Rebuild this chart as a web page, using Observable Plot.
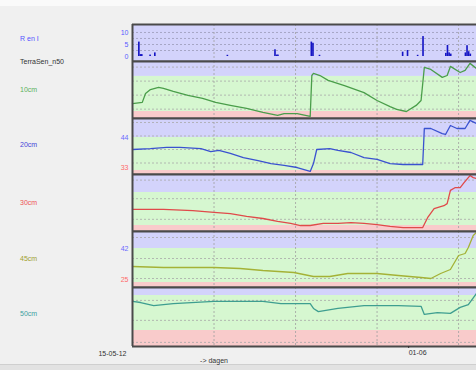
<!DOCTYPE html>
<html><head><meta charset="utf-8">
<script src="https://cdn.jsdelivr.net/npm/d3@7"></script>
<script src="https://cdn.jsdelivr.net/npm/@observablehq/plot@0.6"></script>
<style>
html,body{margin:0;padding:0;}
body{width:476px;height:370px;overflow:hidden;background:#f0f0f0;font-family:"Liberation Sans",Arial,sans-serif;position:relative;}
#topstrip{position:absolute;left:0;top:0;width:476px;height:6px;background:#fafafa;}
#foot{position:absolute;left:0;top:364px;width:476px;height:6px;background:#e2e2e2;border-top:1px solid #cfcfcf;}
.lab{position:absolute;left:20px;font-size:7px;transform:translateY(-50%);white-space:nowrap;}
.pl{position:absolute;left:0;}
</style></head><body>
<div id="topstrip"></div>
<div id="foot"></div>
<script>
// ---------- data ----------
const startLabel = "15-05-12";
const tickLabel = "01-06";
const axisTitle = "-> dagen";
const sensorLabels = ["R en I", "TerraSen_n50", "10cm", "20cm", "30cm", "45cm", "50cm"];
const sensorColors = ["#5555ff", "#333333", "#5cb05c", "#4646d8", "#ee5555", "#a0a030", "#40a0a0"];

// rain (day offset from 15-05-2012, mm)
const rainDay = [0.37,0.47,0.55,1.06,1.35,5.80,8.72,8.82,8.90,10.95,11.05,11.45,16.55,16.85,17.47,17.80,19.20,19.30,19.40,19.50,20.40,20.50,20.60,20.70];
const rainMm  = [6.0,0.8,0.8,0.6,1.5,0.5,2.8,0.6,0.6,6.0,5.5,0.5,1.8,2.5,0.5,8.3,1.3,4.6,1.5,1.0,1.5,4.5,2.0,1.0];
const rainTicks = [0, 5, 10];

const t10 = [0,0.6,0.8,1.1,1.6,1.9,2.5,3.4,4.3,5.1,6.0,7.0,8.0,8.9,9.3,10.1,10.9,11.0,11.1,11.5,12.0,13.0,14.2,15.0,15.8,16.2,16.8,17.4,17.7,17.9,18.3,19.0,19.3,19.5,20.1,20.4,20.7,21.1];
const v10 = [28.4,28.9,32.7,34.4,35.3,34.9,33.6,31.9,30.6,28.9,27.6,26.3,24.6,23.3,24.1,24.1,22.9,40.4,41.3,40.4,38.3,36.1,33.1,29.7,27.1,25.9,25.0,27.6,29.7,43.9,43.0,39.6,40.4,44.3,41.7,42.6,45.6,43.4];

const t20 = [0,1.1,2.1,2.9,4.2,4.8,5.3,6.0,6.8,7.7,8.5,9.3,10.1,10.9,11.1,11.3,12.1,12.6,13.4,14.2,15.0,15.8,16.6,17.8,17.9,18.3,19.0,19.2,19.5,19.9,20.4,20.7,21.1];
const v20 = [40.0,40.3,40.7,40.7,40.3,39.3,39.7,38.7,37.3,36.3,35.3,34.7,34.0,32.7,35.3,40.0,40.3,39.7,39.0,37.3,36.7,35.3,35.0,35.0,47.0,47.0,45.3,45.0,48.0,47.0,47.0,49.7,48.7];

const t30 = [0,1.9,3.7,5.0,6.0,7.0,8.0,8.9,9.7,10.3,10.9,11.7,12.6,13.4,14.2,15.0,15.8,16.6,17.8,18.1,18.5,19.1,19.3,19.5,19.8,20.1,20.3,20.7,20.9,21.1];
const v30 = [33.9,33.9,33.6,33.2,32.9,32.2,31.7,31.0,30.5,30.0,30.0,30.5,30.5,30.7,30.5,30.2,29.8,29.5,29.5,31.9,34.1,34.8,35.3,38.5,39.2,39.2,40.2,42.1,41.6,41.4];

const t45 = [0,1.9,5.0,6.6,8.0,9.9,10.5,11.1,12.1,13.2,15.0,16.3,17.7,18.3,18.9,19.5,20.0,20.4,20.6,20.9,21.1];
const v45 = [33.0,32.5,32.5,32.0,31.0,30.0,29.0,28.0,28.0,29.5,29.5,28.5,27.5,27.0,29.5,31.5,38.5,39.5,42.5,48.5,50.0];

const t50 = [0,0.5,1.3,2.5,5.0,8.0,9.1,10.9,11.1,11.4,12.6,14.2,16.3,17.7,17.9,18.7,19.5,20.1,20.6,21.1];
const v50 = [43.3,43.0,42.1,42.7,43.3,43.3,42.7,42.7,41.3,40.4,41.3,42.1,42.1,41.9,39.6,40.1,39.9,41.6,42.4,45.6];

// thresholds (upper / lower) per depth, with shown tick labels
const upper = [40, 44, 38, 42, 45];
const lower = [25, 33, 30, 25, 35];
const showTicks = [false, true, false, true, false];
const gridDays = [5, 10, 15, 20];
const tickDay = 17;
const endDay = 21.1;

// ---------- layout (styles/positions) ----------
const DAY = 86400000;
const start = Date.UTC(2012, 4, 15);
const toDate = d => new Date(start + d * DAY);
const xDom = [toDate(0), toDate(endDay)];
const gridDates = gridDays.map(toDate);

const labelY = [38, 61, 89, 144, 202, 258, 313];
sensorLabels.forEach((s, i) => {
  const el = document.createElement("div");
  el.className = "lab";
  el.textContent = s;
  el.style.top = labelY[i] + "px";
  el.style.color = sensorColors[i];
  document.body.appendChild(el);
});

const lineColors = ["#4a9e4a", "#3a52d0", "#e04a4a", "#a4b236", "#3e9e90"];
const panelEdges = [[61,118],[118,174],[174,231],[231,287],[287,346]];
const panelDomains = [[22.0,46.4],[31.67,50.33],[28.55,42.36],[22.5,50.5],[30.43,47.29]];
const panelGrid = [[26,32,38,44],[35.5,40,44.5,49],[31.5,36.5,41],[27,37,47.5],[31.6,37.9,43.6]];
const series = [[t10,v10],[t20,v20],[t30,v30],[t45,v45],[t50,v50]];

const BLUE = "#d3d3fb", GREEN = "#d6f7d0", PINK = "#f9cbcb", BORDER = "#4a4a4a";
const xa = () => xDom[0], xb = () => xDom[1];

function mount(svg, top) {
  svg.classList.add("pl");
  svg.style.top = top + "px";
  document.body.appendChild(svg);
}

const baseStyle = {background: "transparent", overflow: "visible", fontFamily: "Liberation Sans, Arial, sans-serif", fontSize: "7px", color: "#333"};

// rain panel
{
  const top = 24, bottom = 61, dom = [-2.08, 13.33];
  const rain = rainDay.map((d, i) => ({t1: toDate(d), t2: toDate(d + 0.1), v: rainMm[i]}));
  const svg = Plot.plot({
    width: 476, height: bottom - top, marginLeft: 132, marginRight: 0, marginTop: 0, marginBottom: 0,
    x: {type: "utc", domain: xDom, axis: null},
    y: {domain: dom, axis: null},
    style: baseStyle,
    marks: [
      Plot.rect([0], {x1: xa, x2: xb, y1: () => dom[0], y2: () => dom[1], fill: BLUE}),
      Plot.ruleY([2.5, 5, 7.5, 10], {stroke: "#9a9ab8", strokeWidth: 0.8, strokeDasharray: "2,2"}),
      Plot.ruleX(gridDates, {stroke: "#a0a0a0", strokeWidth: 0.8, strokeDasharray: "2,2"}),
      Plot.rect(rain, {x1: "t1", x2: "t2", y1: 0, y2: "v", fill: "#1414c4"}),
      Plot.text(rainTicks, {y: d => d, text: d => String(d), frameAnchor: "left", textAnchor: "end", dx: -4, fill: "#5a5aff", fontSize: 7}),
      Plot.ruleY([dom[0], dom[1]], {stroke: BORDER, strokeWidth: 2}),
      Plot.ruleX([xDom[0]], {stroke: BORDER, strokeWidth: 2})
    ]
  });
  mount(svg, top);
}

// soil moisture panels
series.forEach(([ts, vs], i) => {
  const [top, bottom] = panelEdges[i];
  const dom = panelDomains[i];
  const isLast = i === series.length - 1;
  const mb = isLast ? 24 : 0;
  const data = ts.map((d, j) => ({t: toDate(d), v: vs[j]}));
  const marks = [
    Plot.rect([0], {x1: xa, x2: xb, y1: () => upper[i], y2: () => dom[1], fill: BLUE}),
    Plot.rect([0], {x1: xa, x2: xb, y1: () => lower[i], y2: () => upper[i], fill: GREEN}),
    Plot.rect([0], {x1: xa, x2: xb, y1: () => dom[0], y2: () => lower[i], fill: PINK}),
    Plot.ruleY(panelGrid[i], {stroke: "#a8a8a8", strokeWidth: 0.8, strokeDasharray: "2,2"}),
    Plot.ruleX(gridDates, {stroke: "#a0a0a0", strokeWidth: 0.8, strokeDasharray: "2,2"}),
    Plot.line(data, {x: "t", y: "v", stroke: lineColors[i], strokeWidth: 1.3}),
    Plot.ruleY([dom[0], dom[1]], {stroke: BORDER, strokeWidth: 2}),
    Plot.ruleX([xDom[0]], {stroke: BORDER, strokeWidth: 2})
  ];
  if (showTicks[i]) {
    marks.push(Plot.text([upper[i]], {y: d => d, text: d => String(d), frameAnchor: "left", textAnchor: "end", dx: -4, fill: "#6a6aff", fontSize: 7}));
    marks.push(Plot.text([lower[i]], {y: d => d, text: d => String(d), frameAnchor: "left", textAnchor: "end", dx: -4, dy: -3, fill: "#ff6a6a", fontSize: 7}));
  }
  if (isLast) {
    marks.push(Plot.axisX([toDate(tickDay)], {tickFormat: () => tickLabel, tickSize: 2, tickPadding: 2, textAnchor: "start", dx: -1, fontSize: 7, label: null}));
    marks.push(Plot.text([startLabel], {x: xa, text: d => d, frameAnchor: "bottom", dy: 9, dx: -6, textAnchor: "end", fill: "#333", fontSize: 7}));
    marks.push(Plot.text([axisTitle], {x: () => toDate(5), text: d => d, frameAnchor: "bottom", dy: 16, textAnchor: "middle", fill: "#333", fontSize: 7}));
  }
  const svg = Plot.plot({
    width: 476, height: bottom - top + mb, marginLeft: 132, marginRight: 0, marginTop: 0, marginBottom: mb,
    x: {type: "utc", domain: xDom, axis: null, label: null},
    y: {domain: dom, axis: null},
    style: baseStyle,
    marks
  });
  mount(svg, top);
});
</script>
</body></html>
